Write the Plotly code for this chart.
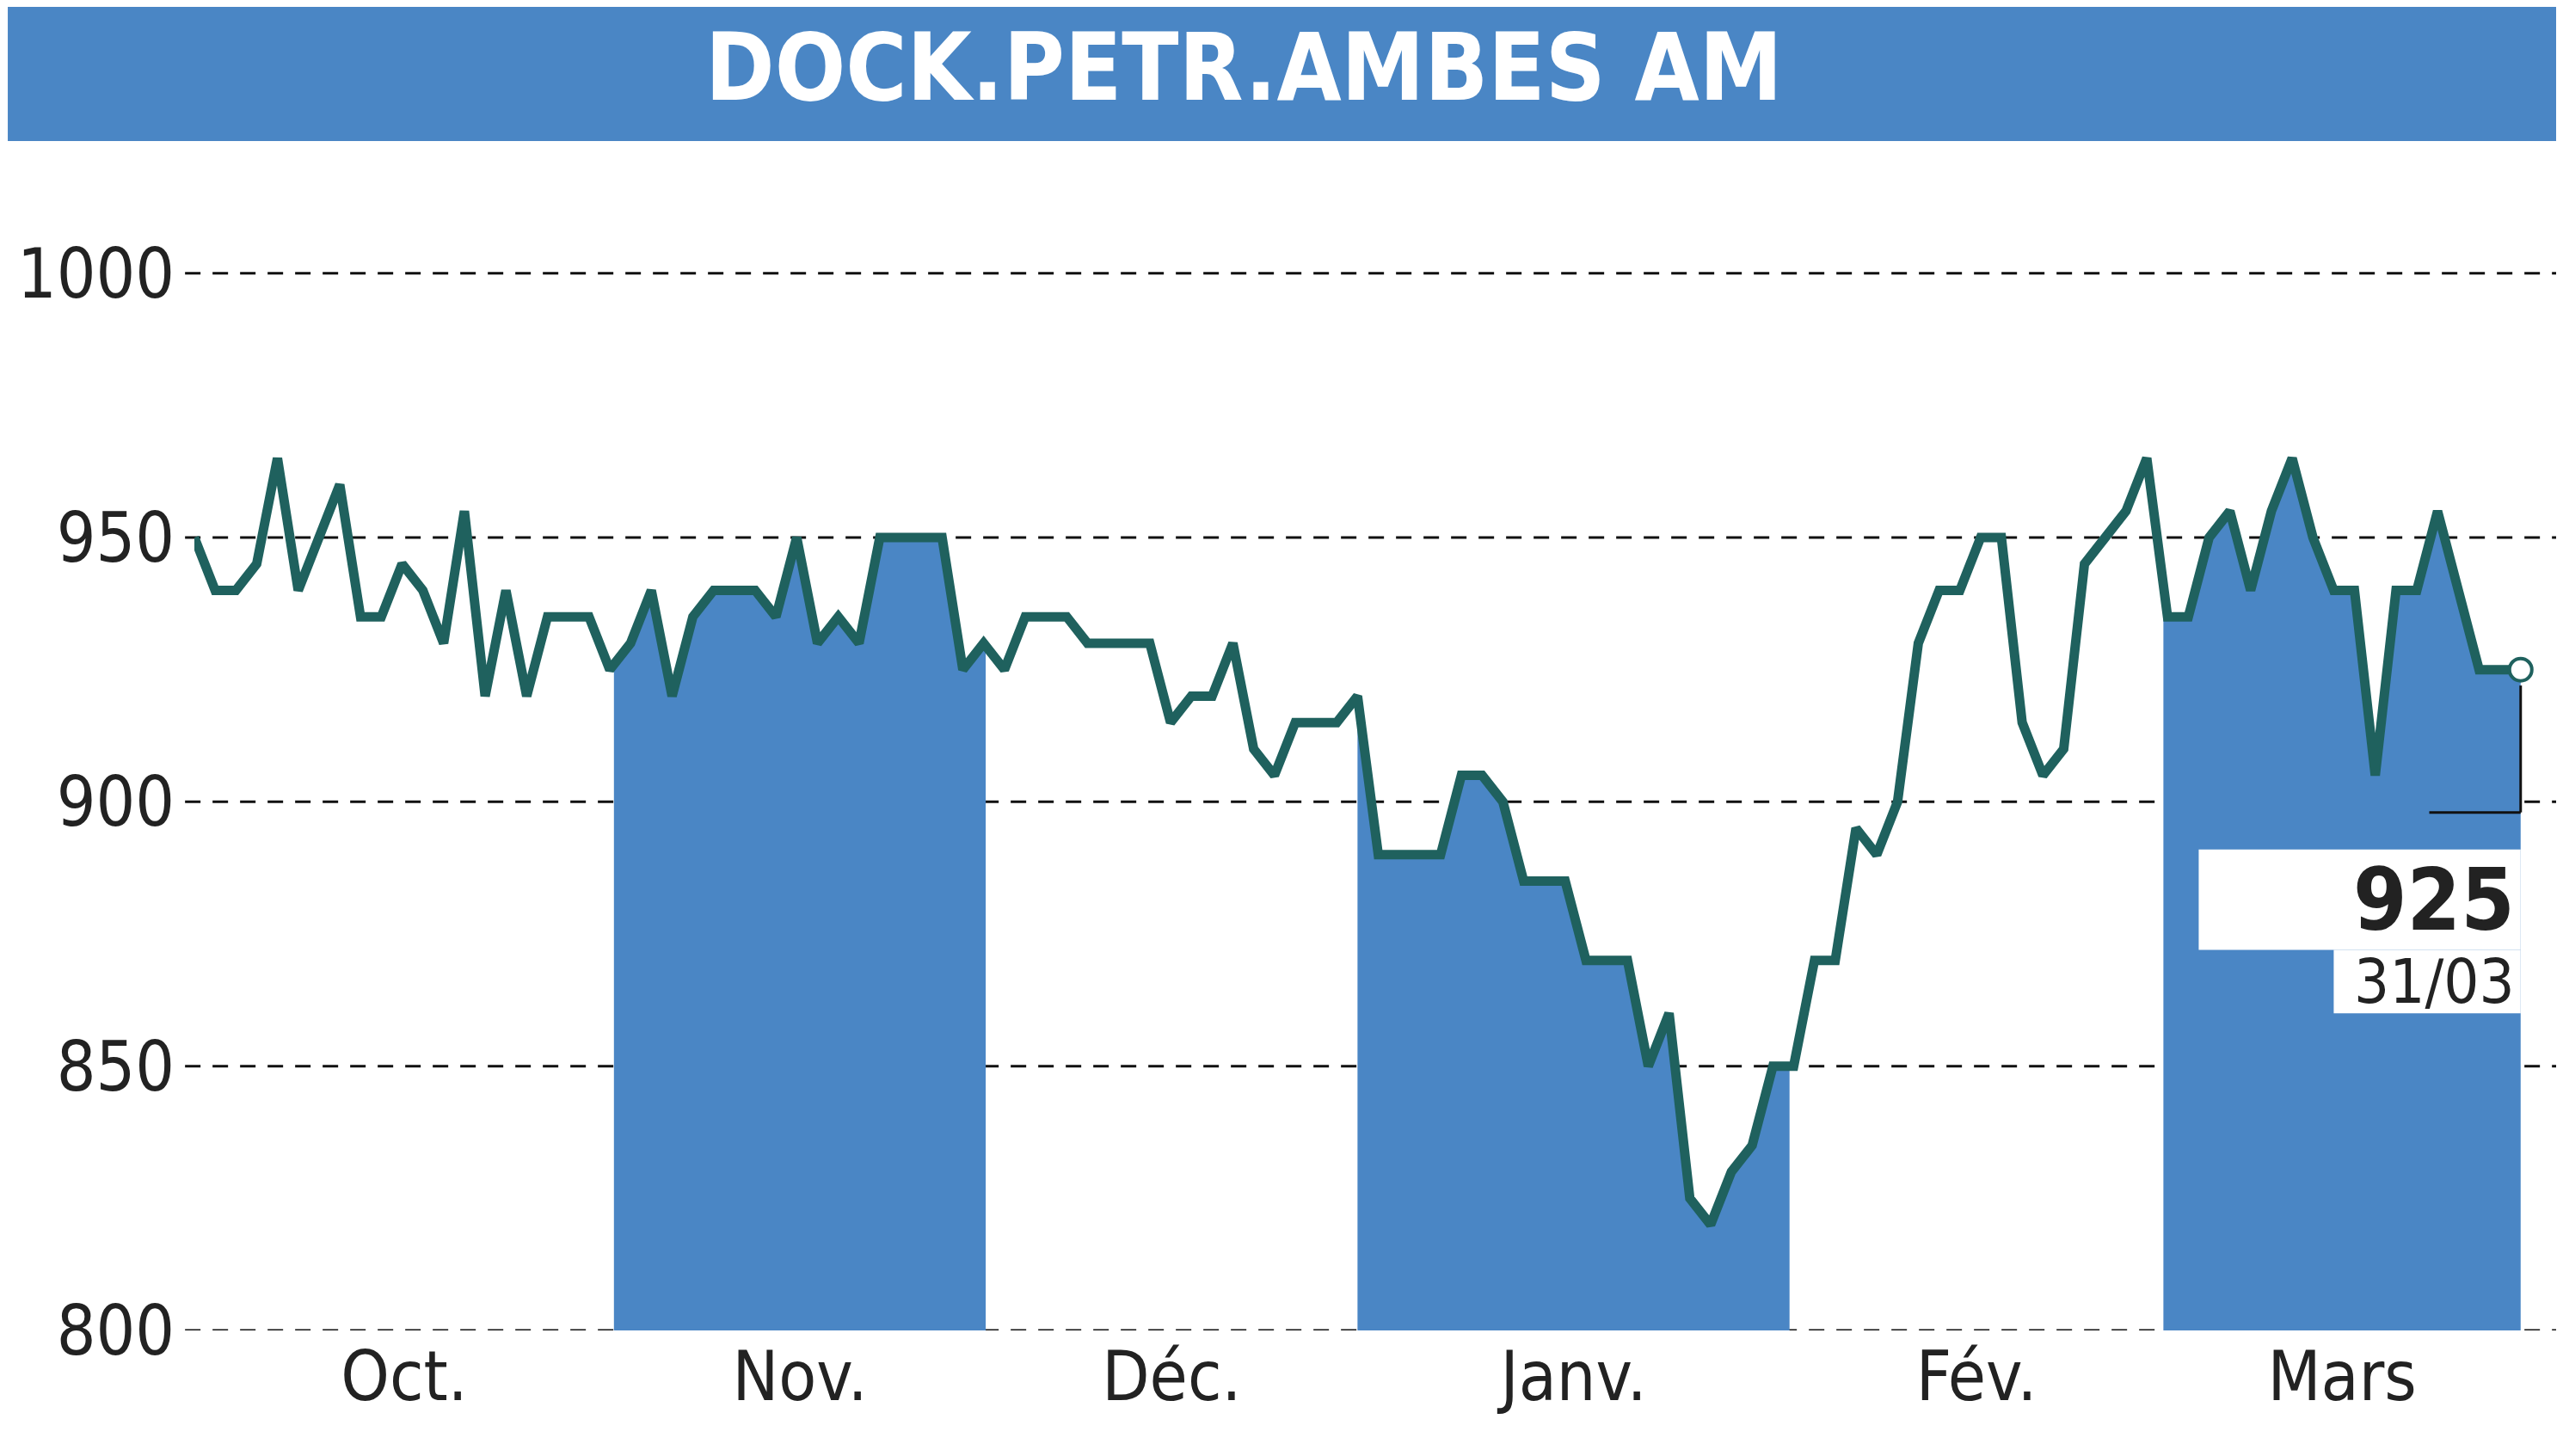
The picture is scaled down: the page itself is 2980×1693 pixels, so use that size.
import numpy as np
import plotly.graph_objects as go

values = [950,940,940,945,965,940,950,960,935,935,945,940,930,955,920,940,920,935,935,935,
          925,930,940,920,935,940,940,940,935,950,930,935,930,950,950,950,950,925,930,925,
          935,935,935,930,930,930,930,915,920,920,930,910,905,915,915,915,920,890,890,890,
          890,905,905,900,885,885,885,870,870,870,850,860,825,820,830,835,850,850,870,870,
          895,890,900,930,940,940,950,950,915,905,910,945,950,955,965,935,935,950,955,940,
          955,965,950,940,940,905,940,940,955,940,925,925,925]
month_labels = ["Oct.", "Nov.", "Déc.", "Janv.", "Fév.", "Mars"]
month_starts = [0, 20.2, 38.1, 56.0, 76.8, 94.8, 112]
y_ticks = [800, 850, 900, 950, 1000]
last_value = "925"
last_date = "31/03"

x = np.arange(len(values))
BLUE = "#4a86c5"
LINE = "#1f615e"
FONT = "Liberation Sans Narrow, DejaVu Sans Condensed, Arial Narrow, sans-serif"

fig = go.Figure()
for i in (1, 3, 5):
    a, b = month_starts[i], min(month_starts[i+1], x[-1])
    xs = np.concatenate([[a], x[(x > a) & (x < b)], [b]])
    ys = np.interp(xs, x, values)
    fig.add_trace(go.Scatter(x=xs, y=ys, fill="tozeroy", fillcolor=BLUE,
                             line=dict(width=0), mode="lines", hoverinfo="skip"))
fig.add_trace(go.Scatter(x=x, y=values, mode="lines", line=dict(color=LINE, width=11)))
fig.add_trace(go.Scatter(x=[x[-1]], y=[values[-1]], mode="markers", cliponaxis=False,
                         marker=dict(size=26, color="white", line=dict(color=LINE, width=4))))

centers = [(month_starts[i] + month_starts[i+1]) / 2 for i in range(6)]
fig.update_layout(
    width=2980, height=1693, showlegend=False,
    plot_bgcolor="white", paper_bgcolor="white",
    margin=dict(l=182, r=50, t=156, b=154),
    font=dict(family=FONT, size=80, color="#222"),
    xaxis=dict(range=[0, 112.3], tickvals=centers, ticktext=month_labels,
               showgrid=False, zeroline=False, ticks="", showline=False),
    yaxis=dict(range=[800, 1025], tickvals=y_ticks, showgrid=False, zeroline=False,
               ticks="", ticklabelstandoff=22),
)
for v in y_ticks:
    fig.add_shape(type="line", xref="paper", yref="y", x0=-0.004, x1=1.02, y0=v, y1=v,
                  line=dict(color="#111", width=3, dash="18px,14px"), layer="below")
# title bar
fig.add_shape(type="rect", xref="paper", yref="paper", x0=-0.08, x1=1.02,
              y0=1.0, y1=1.15, fillcolor=BLUE, line=dict(width=0))
fig.add_annotation(xref="paper", yref="paper", x=0.45, y=1.062, text="<b>DOCK.PETR.AMBES AM</b>",
                   showarrow=False, font=dict(size=108, color="white"), yanchor="middle")
# last value marker lines
fig.add_shape(type="line", xref="x", yref="y", x0=x[-1], x1=x[-1], y0=values[-1]-3, y1=898,
              line=dict(color="#111", width=3))
fig.add_shape(type="line", xref="x", yref="y", x0=x[-1], x1=x[-1]-4.4, y0=898, y1=898,
              line=dict(color="#111", width=3))
fig.add_shape(type="rect", xref="x", yref="y", x0=x[-1]-15.5, x1=x[-1], y0=872, y1=891,
              fillcolor="white", line=dict(width=0))
fig.add_shape(type="rect", xref="x", yref="y", x0=x[-1]-9, x1=x[-1], y0=860, y1=872,
              fillcolor="white", line=dict(width=0))
fig.add_annotation(xref="x", yref="y", x=x[-1]-0.2, y=881.5, text="<b>" + last_value + "</b>",
                   showarrow=False, xanchor="right", font=dict(size=100, color="#222"))
fig.add_annotation(xref="x", yref="y", x=x[-1]-0.2, y=866, text=last_date,
                   showarrow=False, xanchor="right", font=dict(size=72, color="#222"))
fig.write_html("out.html")
